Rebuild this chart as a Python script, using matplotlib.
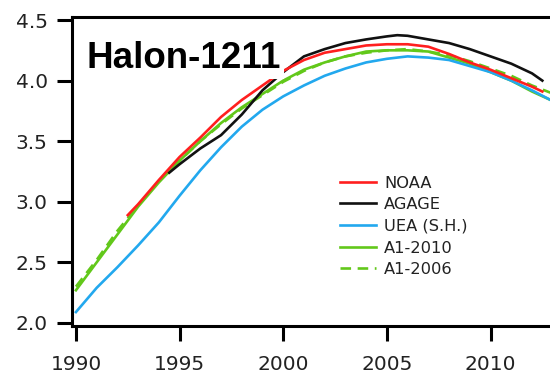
import matplotlib
matplotlib.use("Agg")
import matplotlib.pyplot as plt

# Halon-1211 mixing ratios (ppt)
noaa_years = [1992.5, 1993, 1994, 1995, 1996, 1997, 1998, 1999, 2000, 2001, 2002,
              2003, 2004, 2005, 2006, 2007, 2008, 2009, 2010, 2011, 2012, 2012.5]
noaa_vals = [2.89, 2.98, 3.18, 3.37, 3.53, 3.70, 3.84, 3.96, 4.08, 4.17, 4.23,
             4.26, 4.29, 4.30, 4.30, 4.28, 4.22, 4.15, 4.09, 4.02, 3.95, 3.91]

agage_years = [1994.5, 1995, 1996, 1997, 1998, 1999, 2000, 2001, 2002, 2003, 2004,
               2005, 2005.5, 2006, 2007, 2008, 2009, 2010, 2011, 2012, 2012.5]
agage_vals = [3.24, 3.31, 3.44, 3.55, 3.72, 3.92, 4.07, 4.20, 4.26, 4.31, 4.34,
              4.365, 4.375, 4.37, 4.34, 4.31, 4.26, 4.20, 4.14, 4.06, 4.00]

uea_years = [1990, 1991, 1992, 1993, 1994, 1995, 1996, 1997, 1998, 1999, 2000, 2001,
             2002, 2003, 2004, 2005, 2006, 2007, 2008, 2009, 2010, 2011, 2012, 2012.9]
uea_vals = [2.09, 2.29, 2.46, 2.64, 2.83, 3.05, 3.26, 3.45, 3.62, 3.76, 3.87, 3.96,
            4.04, 4.10, 4.15, 4.18, 4.20, 4.19, 4.17, 4.12, 4.07, 4.00, 3.92, 3.84]

a1_years = [1990, 1991, 1992, 1993, 1994, 1995, 1996, 1997, 1998, 1999, 2000, 2001,
            2002, 2003, 2004, 2005, 2006, 2007, 2008, 2009, 2010, 2011, 2012, 2012.9]
a1_2010_vals = [2.27, 2.50, 2.73, 2.96, 3.16, 3.34, 3.50, 3.65, 3.78, 3.89, 4.00, 4.09,
                4.15, 4.20, 4.24, 4.25, 4.25, 4.24, 4.19, 4.14, 4.07, 4.00, 3.91, 3.84]
a1_2006_vals = [2.30, 2.52, 2.76, 2.97, 3.17, 3.34, 3.50, 3.64, 3.77, 3.88, 3.99, 4.08,
                4.15, 4.20, 4.23, 4.25, 4.26, 4.24, 4.21, 4.16, 4.10, 4.04, 3.96, 3.90]

x_ticks = [1990, 1995, 2000, 2005, 2010]
y_ticks = [2.0, 2.5, 3.0, 3.5, 4.0, 4.5]

RED = "#ff1f1f"
BLACK = "#111111"
BLUE = "#22a8ee"
GREEN = "#62c81a"

fig = plt.figure(figsize=(5.5, 3.74), dpi=100)
ax = fig.add_axes([72 / 550, 48 / 374, 478 / 550, 309 / 374])

lw = 1.9
ax.plot(a1_years, a1_2006_vals, color=GREEN, lw=lw, dashes=(4, 2.5), label="A1-2006", zorder=3)
ax.plot(a1_years, a1_2010_vals, color=GREEN, lw=lw, label="A1-2010", zorder=3)
ax.plot(uea_years, uea_vals, color=BLUE, lw=lw, label="UEA (S.H.)", zorder=3)
ax.plot(agage_years, agage_vals, color=BLACK, lw=lw, label="AGAGE", zorder=4)
ax.plot(noaa_years, noaa_vals, color=RED, lw=lw, label="NOAA", zorder=4)

ax.set_xlim(1989.81, 2012.87)
ax.set_ylim(1.975, 4.525)
ax.set_xticks(x_ticks)
ax.set_yticks(y_ticks)
ax.set_yticklabels([f"{v:.1f}" for v in y_ticks])

for side in ("left", "bottom", "top"):
    ax.spines[side].set_linewidth(2.2)
    ax.spines[side].set_color("black")
ax.spines["right"].set_visible(False)
ax.tick_params(axis="both", length=11, width=2.2, labelsize=14.5,
               labelcolor="#222222", color="black")
ax.tick_params(axis="y", pad=6.5)
ax.tick_params(axis="x", pad=10)

ax.text(0.031, 0.835, "Halon-1211", transform=ax.transAxes, family="Liberation Sans",
        fontweight="bold", fontsize=26.5, va="baseline", ha="left", zorder=6,
        bbox=dict(facecolor="white", edgecolor="none", pad=2))

handles, labels = ax.get_legend_handles_labels()
order = ["NOAA", "AGAGE", "UEA (S.H.)", "A1-2010", "A1-2006"]
hmap = dict(zip(labels, handles))
ax.legend([hmap[k] for k in order], order, loc="upper left",
          bbox_to_anchor=(0.561, 0.487), frameon=False, fontsize=11.7,
          handlelength=2.2, handletextpad=0.5, labelspacing=0.41,
          borderpad=0, borderaxespad=0, labelcolor="#222222")

fig.savefig("out.png", dpi=100, facecolor="white")
